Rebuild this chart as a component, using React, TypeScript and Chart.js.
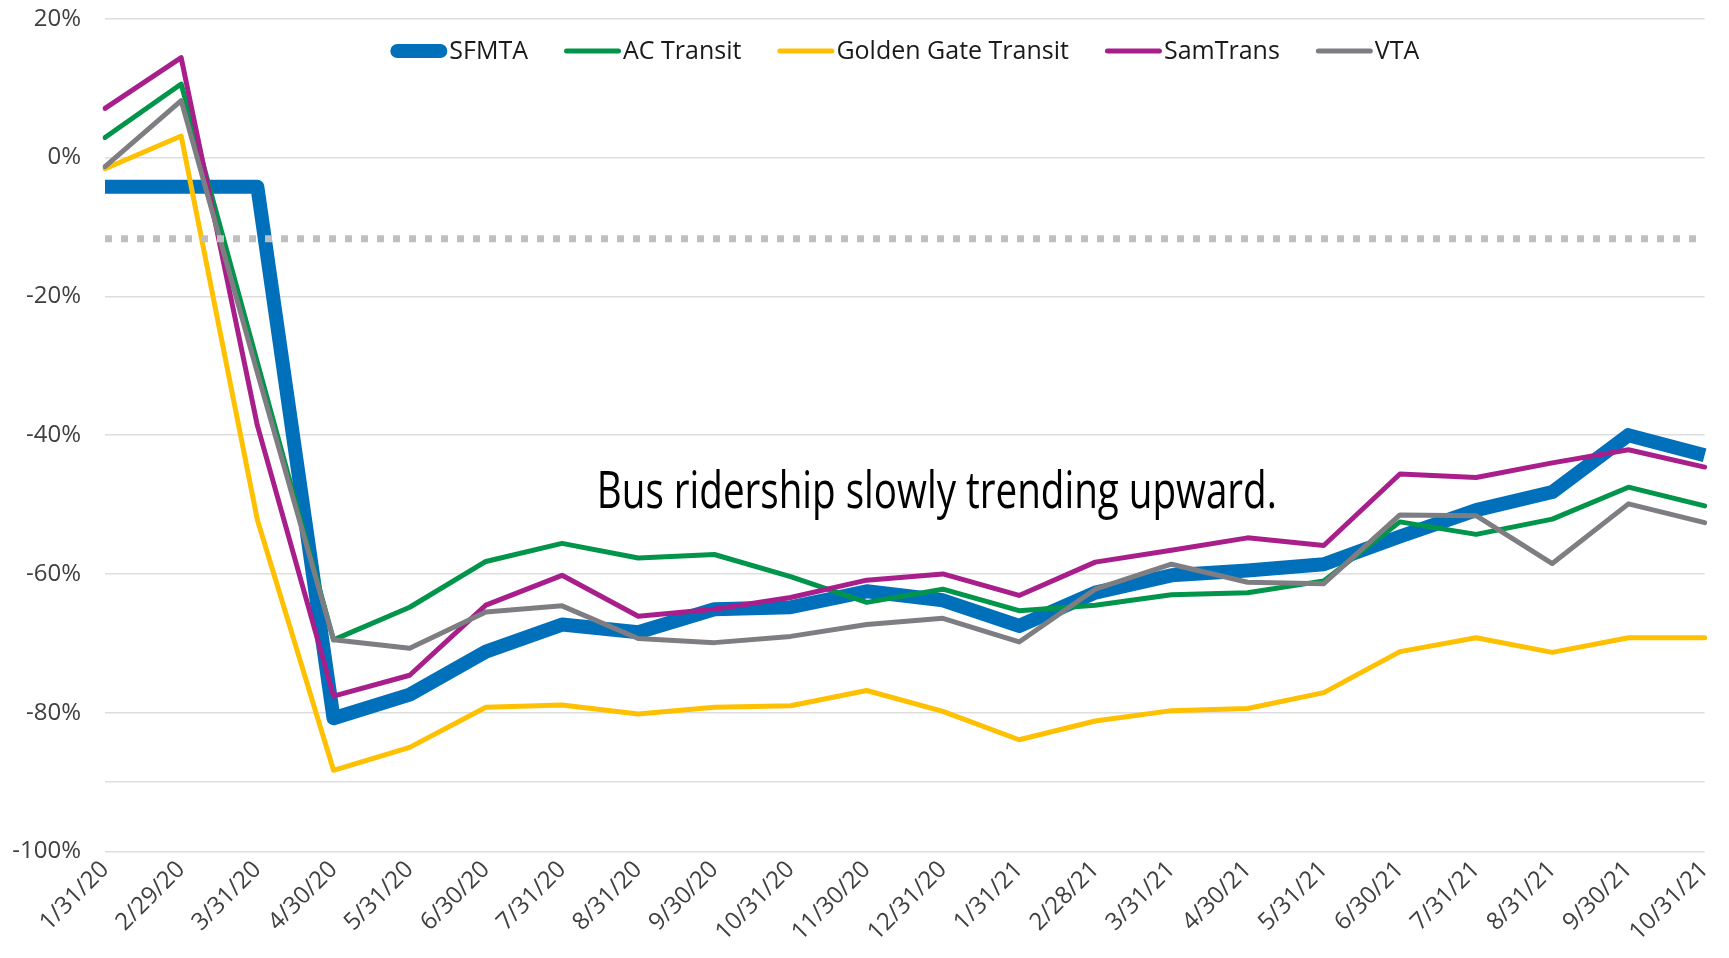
import React, { useEffect, useRef } from 'react';
import { Chart, registerables } from 'chart.js';

Chart.register(...registerables);

const categories = [
  '1/31/20', '2/29/20', '3/31/20', '4/30/20', '5/31/20', '6/30/20', '7/31/20', '8/31/20',
  '9/30/20', '10/31/20', '11/30/20', '12/31/20', '1/31/21', '2/28/21', '3/31/21', '4/30/21',
  '5/31/21', '6/30/21', '7/31/21', '8/31/21', '9/30/21', '10/31/21',
];

const sfmta = [-4.2, -4.2, -4.2, -80.8, -77.4, -71.2, -67.3, -68.4, -65.1, -64.8, -62.5, -63.8, -67.5, -62.7, -60.2, -59.5, -58.6, -54.6, -50.8, -48.2, -40.0, -42.9];
const acTransit = [2.9, 10.6, -29.5, -69.5, -64.8, -58.2, -55.6, -57.7, -57.2, -60.4, -64.1, -62.2, -65.3, -64.5, -63.0, -62.7, -61.0, -52.5, -54.3, -52.1, -47.5, -50.2];
const goldenGate = [-1.6, 3.1, -52.2, -88.3, -85.0, -79.2, -78.9, -80.2, -79.2, -79.0, -76.8, -79.8, -83.9, -81.2, -79.7, -79.4, -77.1, -71.2, -69.2, -71.3, -69.2, -69.2];
const samTrans = [7.1, 14.4, -38.6, -77.6, -74.6, -64.5, -60.2, -66.1, -65.1, -63.4, -60.9, -60.0, -63.1, -58.3, -56.6, -54.8, -55.9, -45.6, -46.1, -44.0, -42.1, -44.6];
const vta = [-1.3, 8.2, -31.0, -69.5, -70.7, -65.5, -64.6, -69.3, -69.9, -69.0, -67.3, -66.4, -69.8, -62.2, -58.6, -61.2, -61.4, -51.5, -51.6, -58.5, -49.9, -52.6];
const baseline = [-11.7, -11.7, -11.7, -11.7, -11.7, -11.7, -11.7, -11.7, -11.7, -11.7, -11.7, -11.7, -11.7, -11.7, -11.7, -11.7, -11.7, -11.7, -11.7, -11.7, -11.7, -11.7];

const yTickValues = [20, 0, -20, -40, -60, -80, -100];
const yGridValues = [20, 0, -20, -40, -60, -80, -90, -100];

const annotationText = 'Bus ridership slowly trending upward.';

const FONT = "'Open Sans', 'Noto Sans', sans-serif";

const legendPlugin = {
  id: 'customLegend',
  afterDraw(chart: any) {
    const ctx = chart.ctx;
    const items = chart.data.datasets.filter((d: any) => d.showInLegend);
    const sampleW = 57;
    const textGap = 2;
    const itemGap = 36;
    ctx.save();
    ctx.font = `25px ${FONT}`;
    const widths = items.map((d: any) => ctx.measureText(d.label).width);
    let total = 0;
    widths.forEach((w: number, i: number) => {
      total += sampleW + textGap + w + (i < widths.length - 1 ? itemGap : 0);
    });
    const ca = chart.chartArea;
    let x = (ca.left + ca.right) / 2 - total / 2;
    const y = 51;
    items.forEach((d: any, i: number) => {
      const lw = d.legendWidth;
      ctx.strokeStyle = d.borderColor;
      ctx.lineWidth = lw;
      ctx.lineCap = 'round';
      ctx.beginPath();
      ctx.moveTo(x + lw / 2, y);
      ctx.lineTo(x + sampleW - lw / 2, y);
      ctx.stroke();
      ctx.fillStyle = '#1a1a1a';
      ctx.textAlign = 'left';
      ctx.textBaseline = 'middle';
      ctx.fillText(d.label, x + sampleW + textGap, y + 1);
      x += sampleW + textGap + widths[i] + itemGap;
    });
    ctx.restore();
  },
};

const annotationPlugin = {
  id: 'annotationText',
  afterDraw(chart: any) {
    const ctx = chart.ctx;
    const xs = chart.scales.x;
    const ys = chart.scales.y;
    const cx = xs.getPixelForValue(10.92);
    const by = ys.getPixelForValue(-50.5);
    ctx.save();
    ctx.font = `400 52px ${FONT}`;
    const w = ctx.measureText(annotationText).width;
    const target = 680;
    ctx.translate(cx, by);
    ctx.scale(target / w, 1);
    ctx.fillStyle = '#000000';
    ctx.textAlign = 'center';
    ctx.textBaseline = 'alphabetic';
    ctx.fillText(annotationText, 0, 0);
    ctx.restore();
  },
};

export default function App() {
  const canvasRef = useRef<HTMLCanvasElement | null>(null);

  useEffect(() => {
    if (!canvasRef.current) return;
    const mk = (label: string, data: number[], color: string, width: number, order: number, cap: string) => ({
      label,
      data,
      borderColor: color,
      backgroundColor: color,
      borderWidth: width,
      legendWidth: width,
      pointRadius: 0,
      tension: 0,
      fill: false,
      borderJoinStyle: 'round',
      borderCapStyle: cap,
      order,
      showInLegend: true,
    });
    const chart = new Chart(canvasRef.current, {
      type: 'line',
      data: {
        labels: categories,
        datasets: [
          mk('SFMTA', sfmta, '#0070BA', 14, 5, 'butt'),
          mk('AC Transit', acTransit, '#00954A', 5, 4, 'round'),
          mk('Golden Gate Transit', goldenGate, '#FFC000', 5, 3, 'round'),
          mk('SamTrans', samTrans, '#A81F8C', 5, 2, 'round'),
          mk('VTA', vta, '#7E7E82', 5, 1, 'round'),
          {
            label: 'Baseline',
            data: baseline,
            borderColor: '#BFBFBF',
            borderWidth: 7,
            borderDash: [7, 9],
            borderCapStyle: 'butt',
            pointRadius: 0,
            tension: 0,
            fill: false,
            order: 0,
            showInLegend: false,
          } as any,
        ] as any,
      },
      options: {
        animation: false,
        responsive: false,
        devicePixelRatio: 1,
        layout: { padding: { top: 18.8, right: 23, bottom: 0, left: 0 } },
        plugins: {
          legend: { display: false },
          tooltip: { enabled: false },
        },
        scales: {
          x: {
            type: 'category',
            offset: false,
            grid: { display: false, drawTicks: false },
            border: { display: false },
            ticks: {
              autoSkip: false,
              maxRotation: 45,
              minRotation: 45,
              padding: 4,
              color: '#404040',
              font: { family: FONT, size: 24 },
            },
            afterFit: (s: any) => {
              s.height = 106.5;
            },
          },
          y: {
            min: -100,
            max: 20,
            ticks: {
              stepSize: 10,
              autoSkip: false,
              padding: 0,
              color: '#404040',
              font: { family: FONT, size: 24 },
              callback: (v: any) => (yTickValues.includes(Number(v)) ? `${v}%` : ''),
            },
            grid: {
              drawTicks: true,
              tickLength: 24,
              tickColor: 'rgba(0,0,0,0)',
              lineWidth: 1.5,
              color: (c: any) => (c.tick && yGridValues.includes(c.tick.value) ? '#DEDEDE' : 'rgba(0,0,0,0)'),
            },
            border: { display: false },
            afterFit: (s: any) => {
              s.width = 105;
            },
          },
        },
      } as any,
      plugins: [legendPlugin, annotationPlugin],
    });
    return () => chart.destroy();
  }, []);

  return (
    <div style={{ position: 'absolute', left: 0, top: 0, width: 1729, height: 958, background: '#ffffff' }}>
      <canvas ref={canvasRef} width={1729} height={958} style={{ width: 1729, height: 958 }} />
    </div>
  );
}
